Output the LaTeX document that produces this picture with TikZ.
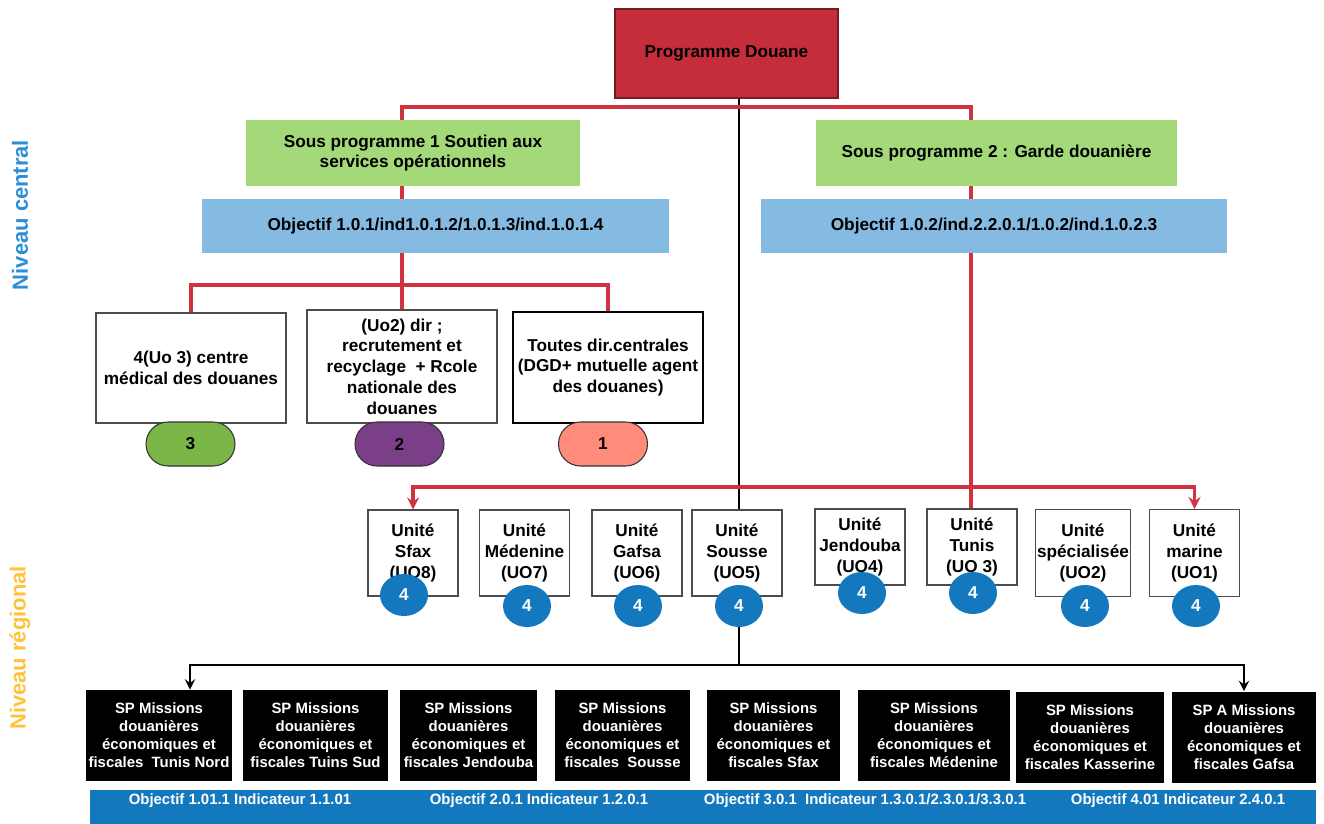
\documentclass[tikz,border=0pt]{standalone}
\usepackage{fontspec}
\setmainfont{Liberation Sans}
\usepackage{tikz}
\usetikzlibrary{calc,arrows,shapes.geometric}

\definecolor{progred}{HTML}{C62D3B}
\definecolor{linered}{HTML}{D0323F}
\definecolor{spgreen}{HTML}{A4D97A}
\definecolor{objblue}{HTML}{85BBE3}
\definecolor{uoblue}{HTML}{1378BD}
\definecolor{pillgreen}{HTML}{7AB648}
\definecolor{pillpurple}{HTML}{7B3F87}
\definecolor{pillsalmon}{HTML}{FF8C7A}
\definecolor{centralblue}{HTML}{2A8FD4}
\definecolor{regyellow}{HTML}{FFC23D}

\begin{document}
\begin{tikzpicture}[x=0.02cm,y=-0.02cm,>=stealth,
    every node/.style={align=center,inner sep=1pt},
    txt/.style={font=\fontsize{9.8}{11.8}\selectfont\bfseries},
    small/.style={font=\fontsize{8.5}{10.2}\selectfont\bfseries},
    wbox/.style={txt,draw=black!70,line width=0.6pt,fill=white,minimum width=3.8cm},
    ubox/.style={txt,draw=black!70,line width=0.6pt,fill=white,minimum width=1.8cm},
    pill/.style={txt,draw=black!80,line width=0.6pt,rounded corners=0.44cm,minimum width=1.78cm,minimum height=0.88cm},
    uo/.style={ellipse,fill=uoblue,text=white,txt,minimum width=0.96cm,minimum height=0.84cm,inner sep=0pt},
    mbox/.style={small,fill=black,text=white,minimum height=1.82cm},
    redline/.style={linered,line width=2pt},
    blackline/.style={black,line width=1.6pt}]

\useasboundingbox (0,0) rectangle (1324,824);

% niveaux
\node[rotate=90,text=centralblue,font=\fontsize{12.5}{14}\selectfont\bfseries] (nc) at (20,215) {Niveau central};
\node[rotate=90,text=regyellow,font=\fontsize{12.5}{14}\selectfont\bfseries] (nr) at (20,648) {Niveau régional};

% niveau central
\node[txt,fill=progred,draw=progred!60!black,line width=0.8pt,minimum width=4.46cm,minimum height=1.78cm] (prog) at (726.5,53.5) {Programme Douane};
\node[txt,fill=spgreen,minimum width=6.68cm,minimum height=1.32cm] (sp1) at (413,153) {Sous programme 1 Soutien aux\\services opérationnels};
\node[txt,fill=spgreen,minimum width=7.22cm,minimum height=1.32cm] (sp2) at (996.5,153) {Sous programme 2 : Garde douanière};
\node[txt,fill=objblue,minimum width=9.34cm,minimum height=1.08cm] (obj1) at (435.5,226) {Objectif 1.0.1/ind1.0.1.2/1.0.1.3/ind.1.0.1.4};
\node[txt,fill=objblue,minimum width=9.32cm,minimum height=1.08cm] (obj2) at (994,226) {Objectif 1.0.2/ind.2.2.0.1/1.0.2/ind.1.0.2.3};

\node[wbox,minimum height=2.2cm] (cmed) at (191,368) {4(Uo 3) centre\\médical des douanes};
\node[wbox,minimum height=2.26cm] (uo2) at (402,366.5) {(Uo2) dir ;\\recrutement et\\recyclage~ + Rcole\\nationale des\\douanes};
\node[wbox,draw=black,line width=1.3pt,minimum height=2.22cm] (dirc) at (608,367.5) {Toutes dir.centrales\\(DGD+ mutuelle agent\\des douanes)};

\node[pill,fill=pillgreen] (p3) at (190.5,444) {3};
\node[pill,fill=pillpurple] (p2) at (399.5,444) {2};
\node[pill,fill=pillsalmon] (p1) at (603,444) {1};

% unites regionales
\node[ubox,minimum height=1.72cm] (sfax) at (413,553) {Unité\\Sfax\\(UO8)};
\node[ubox,minimum height=1.72cm] (med) at (524.5,553) {Unité\\Médenine\\(UO7)};
\node[ubox,minimum height=1.72cm] (gafsa) at (637,553) {Unité\\Gafsa\\(UO6)};
\node[ubox,minimum height=1.72cm] (sousse) at (737,553) {Unité\\Sousse\\(UO5)};
\node[ubox,minimum height=1.52cm] (jend) at (860,547) {Unité\\Jendouba\\(UO4)};
\node[ubox,minimum height=1.52cm] (tunis) at (972,547) {Unité\\Tunis\\(UO 3)};
\node[ubox,minimum height=1.74cm] (spec) at (1083,553) {Unité\\spécialisée\\(UO2)};
\node[ubox,minimum height=1.74cm] (marine) at (1194.5,553) {Unité\\marine\\(UO1)};

\node[uo] (c8) at (404,595) {4};
\node[uo] (c7) at (527,606) {4};
\node[uo] (c6) at (638,606) {4};
\node[uo] (c5) at (739,606) {4};
\node[uo] (c4) at (862,593) {4};
\node[uo] (c3) at (973,593) {4};
\node[uo] (c2) at (1085,606) {4};
\node[uo] (c1) at (1196,606) {4};

% sous programmes regionaux
\node[mbox,minimum width=2.92cm] (m1) at (159,735.5) {SP Missions\\douanières\\économiques et\\fiscales~ Tunis Nord};
\node[mbox,minimum width=2.9cm] (m2) at (315.5,735.5) {SP Missions\\douanières\\économiques et\\fiscales Tuins Sud};
\node[mbox,minimum width=2.74cm] (m3) at (468.5,735.5) {SP Missions\\douanières\\économiques et\\fiscales Jendouba};
\node[mbox,minimum width=2.7cm] (m4) at (622.5,735.5) {SP Missions\\douanières\\économiques et\\fiscales~ Sousse};
\node[mbox,minimum width=2.66cm] (m5) at (773.5,735.5) {SP Missions\\douanières\\économiques et\\fiscales Sfax};
\node[mbox,minimum width=3.04cm] (m6) at (934,735.5) {SP Missions\\douanières\\économiques et\\fiscales Médenine};
\node[mbox,minimum width=2.96cm] (m7) at (1090,737) {SP Missions\\douanières\\économiques et\\fiscales Kasserine};
\node[mbox,minimum width=2.88cm] (m8) at (1244,737) {SP A Missions\\douanières\\économiques et\\fiscales Gafsa};

\node[fill=uoblue,minimum width=24.52cm,minimum height=0.68cm,inner sep=0pt] (bar) at (703,807) {};
\node[small,text=white] (o1) at (240,801) {Objectif 1.01.1 Indicateur 1.1.01};
\node[small,text=white] (o2) at (539,801) {Objectif 2.0.1 Indicateur 1.2.0.1};
\node[small,text=white] (o3) at (865,801) {Objectif 3.0.1~ Indicateur 1.3.0.1/2.3.0.1/3.3.0.1};
\node[small,text=white] (o4) at (1178,801) {Objectif 4.01 Indicateur 2.4.0.1};

% liaisons
\coordinate (r1) at (402,107);
\coordinate (r2) at (971,107);
\coordinate (r3) at (402,285);
\coordinate (r4) at (971,487);
\coordinate (b1) at (739,665);

\draw[blackline] (prog.south -| c5) -- (c5 |- sousse.north);
\draw[blackline] (c5.south) -- (b1);
\draw[blackline,->] (b1) -| ([xshift=0.62cm]m1.north);
\draw[blackline,->] (b1) -| (m8.north);

\draw[redline] (r1 |- sp1.north) -- (r1) -- (r2) -- (r2 |- sp2.north);
\draw[redline] (r1 |- sp1.south) -- (r1 |- obj1.north);
\draw[redline] (r2 |- sp2.south) -- (r2 |- obj2.north);
\draw[redline] (r1 |- obj1.south) -- (r3) -- (uo2.north);
\draw[redline] (cmed.north) |- (r3) -| (dirc.north);
\draw[redline] (r2 |- obj2.south) -- (r2 |- tunis.north);
\draw[redline,->] (r4) -| (sfax.north);
\draw[redline,->] (r4) -| (marine.north);

\end{tikzpicture}
\end{document}
